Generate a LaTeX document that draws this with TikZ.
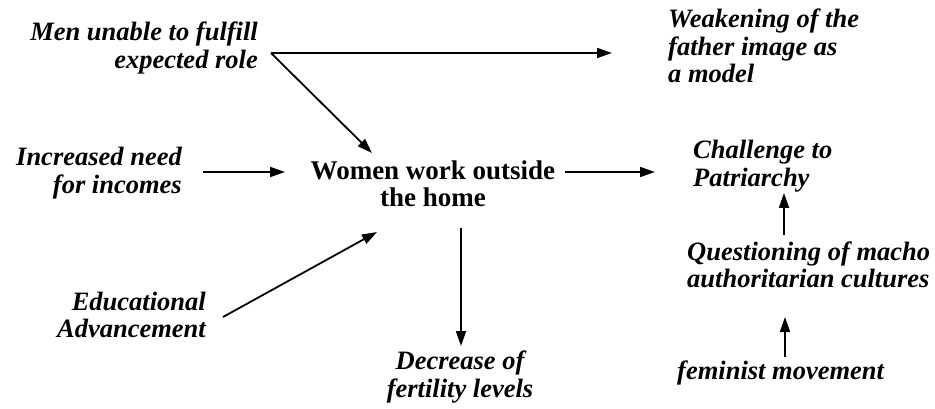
\documentclass[tikz,border=0pt]{standalone}
\usepackage{fontspec}
\setmainfont{Liberation Serif}
\usetikzlibrary{arrows.meta,calc}
\tikzset{
  lbl/.style={font=\fontsize{26.5}{27.5}\selectfont\bfseries\itshape, inner sep=0pt},
  core/.style={font=\fontsize{27}{27}\selectfont\bfseries, inner sep=0pt, align=center},
  arr/.style={line width=1.8pt, -{Triangle[length=15pt,width=10pt]}}
}
\begin{document}
\begin{tikzpicture}[x=1pt,y=-1pt]
\useasboundingbox (0,0) rectangle (935,409);
\node[lbl, align=right, anchor=east] (men) at (258,48) {Men unable to fulfill\\expected role};
\node[lbl, align=left, anchor=west] (weak) at (668,46) {Weakening of the\\father image as\\a model};
\node[lbl, align=right, anchor=east] (incr) at (182,173) {Increased need\\for incomes};
\node[core] (women) at (433,184) {Women work outside\\the home};
\node[lbl, align=left, anchor=west] (chal) at (693,166) {Challenge to\\Patriarchy};
\node[lbl, align=left, anchor=west] (quest) at (687,265) {Questioning of macho\\authoritarian cultures};
\node[lbl, anchor=west] (fem) at (677,373) {feminist movement};
\node[lbl, align=center] (dec) at (460,377) {Decrease of\\fertility levels};
\node[lbl, align=right, anchor=east] (edu) at (206,315) {Educational\\Advancement};

\coordinate (m0) at ($(men.east)+(13,5)$);
\draw[arr] (m0) -- ($(weak.west|-m0)+(-56,0)$);
\draw[arr] (m0) -- ($(women.center)+(-61,-31)$);
\draw[arr, shorten <=21pt, shorten >=148pt] ($(incr.east)+(0,-1)$) -- ($(incr.east -| women.center)+(0,-1)$);
\draw[arr] ($(women.center)+(132,-12)$) -- ($(chal.west)+(-38,6)$);
\draw[arr] ($(women.center)+(28,44)$) -- ($(dec.center)+(1,-31)$);
\draw[arr] ($(edu.east)+(17,2)$) -- ($(women.center)+(-56,48)$);
\draw[arr] ($(fem.west)+(108,-16)$) -- ($(quest.west)+(98,52)$);
\draw[arr] ($(quest.west)+(97,-30)$) -- ($(chal.west)+(91,27)$);
\end{tikzpicture}
\end{document}
